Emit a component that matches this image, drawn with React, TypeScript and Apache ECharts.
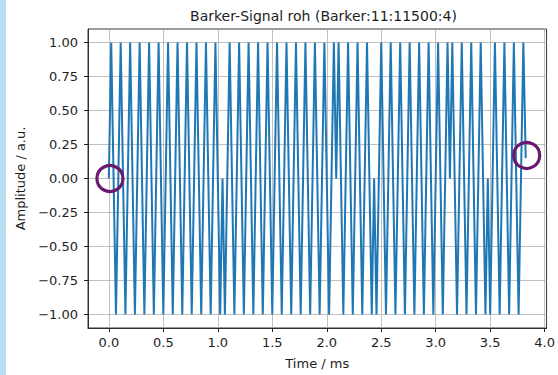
import React, { useEffect, useRef } from "react";
import * as echarts from "echarts";

// Barker-11 code (chip signs), 11500 Hz carrier, 4 cycles per chip
const barkerCode = [1, 1, 1, -1, -1, -1, 1, -1, -1, 1, -1];
// sample spacing: a quarter of a carrier period, in ms
const sampleStepMs = 0.0217391;

// Amplitude samples (peaks at +/-1, crossings at 0), one row per chip
const amplitudes = [
  0, 1, 0, -1, 0, 1, 0, -1, 0, 1, 0, -1, 0, 1, 0, -1,
  0, 1, 0, -1, 0, 1, 0, -1, 0, 1, 0, -1, 0, 1, 0, -1,
  0, 1, 0, -1, 0, 1, 0, -1, 0, 1, 0, -1, 0, 1, 0, -1,
  0, -1, 0, 1, 0, -1, 0, 1, 0, -1, 0, 1, 0, -1, 0, 1,
  0, -1, 0, 1, 0, -1, 0, 1, 0, -1, 0, 1, 0, -1, 0, 1,
  0, -1, 0, 1, 0, -1, 0, 1, 0, -1, 0, 1, 0, -1, 0, 1,
  0, 1, 0, -1, 0, 1, 0, -1, 0, 1, 0, -1, 0, 1, 0, -1,
  0, -1, 0, 1, 0, -1, 0, 1, 0, -1, 0, 1, 0, -1, 0, 1,
  0, -1, 0, 1, 0, -1, 0, 1, 0, -1, 0, 1, 0, -1, 0, 1,
  0, 1, 0, -1, 0, 1, 0, -1, 0, 1, 0, -1, 0, 1, 0, -1,
  0, -1, 0, 1, 0, -1, 0, 1, 0, -1, 0, 1, 0, -1, 0, 1,
  0.15,
];

const xTicks = [0, 0.5, 1, 1.5, 2, 2.5, 3, 3.5, 4];
const yTicks = [-1, -0.75, -0.5, -0.25, 0, 0.25, 0.5, 0.75, 1];

// annotation rings (start point and end point of the signal)
const markedPoints = [
  [0.01, 0.0],
  [3.835, 0.17],
];

const titleText = `Barker-Signal roh (Barker:${barkerCode.length}:11500:4)`;

export default function App() {
  const ref = useRef<HTMLDivElement>(null);

  useEffect(() => {
    if (!ref.current) return;
    const chart = echarts.init(ref.current, undefined, { renderer: "svg" });
    const data = amplitudes.map((a, i) => [i * sampleStepMs, a]);
    const font = "DejaVu Sans";
    const textColor = "#1e1e1e";

    chart.setOption({
      animation: false,
      backgroundColor: "#ffffff",
      title: {
        text: titleText,
        left: 318.5,
        top: 4,
        textAlign: "center",
        textStyle: { fontFamily: font, fontSize: 14, fontWeight: "normal", color: textColor },
      },
      grid: {
        left: 88,
        right: 9,
        top: 29,
        bottom: 45,
        show: true,
        borderColor: "#222",
        borderWidth: 0.9,
        backgroundColor: "transparent",
      },
      xAxis: {
        type: "value",
        min: -0.1913,
        max: 4.0174,
        name: "Time / ms",
        nameLocation: "middle",
        nameGap: 29,
        nameTextStyle: { fontFamily: font, fontSize: 13, color: textColor },
        axisLine: { show: true, onZero: false, lineStyle: { color: "#222", width: 0.9 } },
        axisTick: { show: true, length: 4, customValues: xTicks, lineStyle: { color: "#222" } },
        axisLabel: {
          customValues: xTicks,
          margin: 8,
          fontFamily: font,
          fontSize: 13,
          color: textColor,
          formatter: (v: number) => v.toFixed(1).replace("-", "\u2212"),
        },
        splitLine: { show: true, lineStyle: { color: "#b0b0b0", width: 0.8 } },
      },
      yAxis: {
        type: "value",
        min: -1.1,
        max: 1.1,
        name: "Amplitude / a.u.",
        nameLocation: "middle",
        nameGap: 61,
        nameTextStyle: { fontFamily: font, fontSize: 13, color: textColor },
        axisLine: { show: true, onZero: false, lineStyle: { color: "#222", width: 0.9 } },
        axisTick: { show: true, length: 4, customValues: yTicks, lineStyle: { color: "#222" } },
        axisLabel: {
          customValues: yTicks,
          margin: 10,
          fontFamily: font,
          fontSize: 13,
          color: textColor,
          formatter: (v: number) => v.toFixed(2).replace("-", "\u2212"),
        },
        splitLine: { show: true, lineStyle: { color: "#b0b0b0", width: 0.8 } },
      },
      graphic: [
        {
          type: "rect",
          left: 0,
          top: 0,
          shape: { width: 6, height: 375 },
          style: { fill: "#badef2" },
          silent: true,
        },
      ],
      series: [
        {
          type: "line",
          data,
          showSymbol: false,
          symbol: "none",
          lineStyle: { color: "#1f77b4", width: 2 },
          z: 2,
        },
        {
          type: "scatter",
          data: markedPoints,
          symbol: "circle",
          symbolSize: 26,
          itemStyle: {
            color: "rgba(0,0,0,0)",
            borderColor: "#6a1a6c",
            borderWidth: 3.2,
            opacity: 1,
          },
          z: 5,
        },
      ],
    });

    return () => chart.dispose();
  }, []);

  return (
    <div
      ref={ref}
      style={{ position: "absolute", left: 0, top: 0, width: 558, height: 375 }}
    />
  );
}
